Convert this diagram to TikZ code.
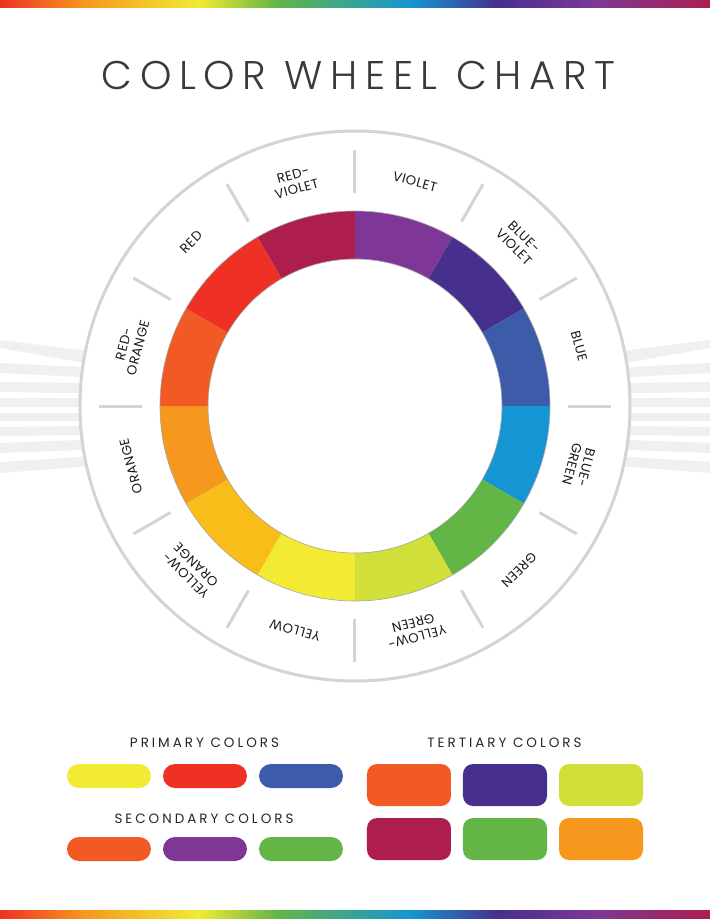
\documentclass[tikz,border=0pt]{standalone}
\usepackage{fontspec}
\IfFontExistsTF{Poppins Light}{\def\cwfont{Poppins Light}}{\def\cwfont{Poppins}}
\newfontfamily\cwtitlefam{\cwfont}[LetterSpace=19]
\newfontfamily\cwlabelfam{Poppins}[LetterSpace=4]
\newfontfamily\cwheadfam{Poppins}[LetterSpace=22]
\definecolor{cwRV}{HTML}{AD1E4D}
\definecolor{cwV}{HTML}{7E3796}
\definecolor{cwBV}{HTML}{472F8E}
\definecolor{cwB}{HTML}{3C5CAA}
\definecolor{cwBG}{HTML}{1595D3}
\definecolor{cwG}{HTML}{63B546}
\definecolor{cwYG}{HTML}{D0DF39}
\definecolor{cwY}{HTML}{F2EA33}
\definecolor{cwYO}{HTML}{F9BD19}
\definecolor{cwO}{HTML}{F7981E}
\definecolor{cwRO}{HTML}{F15A24}
\definecolor{cwR}{HTML}{EE3124}
\definecolor{cwRim}{HTML}{D4D4D4}
\definecolor{cwStripe}{HTML}{F0F0F0}
\definecolor{cwText}{HTML}{3A3A3A}
\pgfdeclarehorizontalshading{rainbow}{100bp}{color(0bp)=(cwR); color(25bp)=(cwR); color(31bp)=(cwO); color(39bp)=(cwY); color(44.5bp)=(cwG); color(54bp)=(cwBG); color(60bp)=(cwBV); color(67bp)=(cwV); color(75bp)=(cwRV); color(100bp)=(cwRV)}
\begin{document}
\begin{tikzpicture}[x=1pt, y=1pt, line cap=round, line join=round]
\tikzset{rim/.style={cwRim, line width=3pt, line cap=butt},
  stripe/.style={cwStripe},
  wheel label/.style={align=center, text=black!90, inner sep=0pt, font=\cwlabelfam\fontsize{13.2}{14.5}\selectfont},
  head label/.style={text=black!85, inner sep=0pt, font=\cwheadfam\fontsize{13.5}{15}\selectfont}}
\useasboundingbox (-355,-513) rectangle (355,406);
\fill[white] (-355,-513) rectangle (355,406);
\shade[shading=rainbow] (-355,398) rectangle (355,406);
\shade[shading=rainbow] (-355,-504) rectangle (355,-513);
\foreach \a/\b/\c/\d in {66/58/50.4/36.1, 43/33/36.75/26.75, 24/14/22.4/12.4, 8/-1/8/-1, -7/-15/-7/-15, -21/-30/-19.4/-28.4, -37/-47/-32.3/-42.3, -56/-67/-48.2/-57.6}
  {\fill[stripe] (-355,\a) -- (-230,\c) -- (-230,\d) -- (-355,\b) -- cycle;
   \fill[stripe] (355,\a) -- (230,\c) -- (230,\d) -- (355,\b) -- cycle;}
\fill[white] (0,0) circle (275);
\draw[rim] (0,0) circle (275);
\foreach \a in {0,30,...,330} \draw[rim] (\a:213) -- (\a:256);
\foreach \a/\col in {90/cwRV, 60/cwV, 30/cwBV, 0/cwB, -30/cwBG, -60/cwG, -90/cwYG, -120/cwY, -150/cwYO, -180/cwO, 150/cwRO, 120/cwR}
  \fill[\col] (\a:147) arc[start angle=\a, end angle=\a+30, radius=147] -- (\a+30:195) arc[start angle=\a+30, end angle=\a, radius=195] -- cycle;
\draw[black!35, line width=0.6pt] (0,0) circle (147) (0,0) circle (195);
\foreach \a/\t [count=\i] in {105/{RED-\\VIOLET}, 75/VIOLET, 45/{BLUE-\\VIOLET}, 15/BLUE, -15/{BLUE-\\GREEN}, -45/GREEN, -75/{YELLOW-\\GREEN}, -105/YELLOW, -135/{YELLOW-\\ORANGE}, -165/ORANGE, 165/{RED-\\ORANGE}, 135/RED}
  \node[wheel label, rotate=\a-90] (lab\i) at (\a:232) {\t};
\node[text=cwText, font=\cwtitlefam\fontsize{40}{44}\selectfont] (title) at (3.5,330) {COLOR WHEEL CHART};
\node[head label] (primary) at (-150.5,-337) {PRIMARY COLORS};
\node[head label] (secondary) at (-151,-413) {SECONDARY COLORS};
\node[head label] (tertiary) at (149.5,-337) {TERTIARY COLORS};
\foreach \x/\col in {-288/cwY, -192/cwR, -96/cwB} \fill[\col, rounded corners=12] (\x,-358) rectangle ++(84,-24);
\foreach \x/\col in {-288/cwRO, -192/cwV, -96/cwG} \fill[\col, rounded corners=12] (\x,-431) rectangle ++(84,-24);
\foreach \x/\col in {12/cwRO, 108/cwBV, 204/cwYG} \fill[\col, rounded corners=10] (\x,-358) rectangle ++(84,-42);
\foreach \x/\col in {12/cwRV, 108/cwG, 204/cwO} \fill[\col, rounded corners=10] (\x,-412) rectangle ++(84,-42);
\end{tikzpicture}
\end{document}
